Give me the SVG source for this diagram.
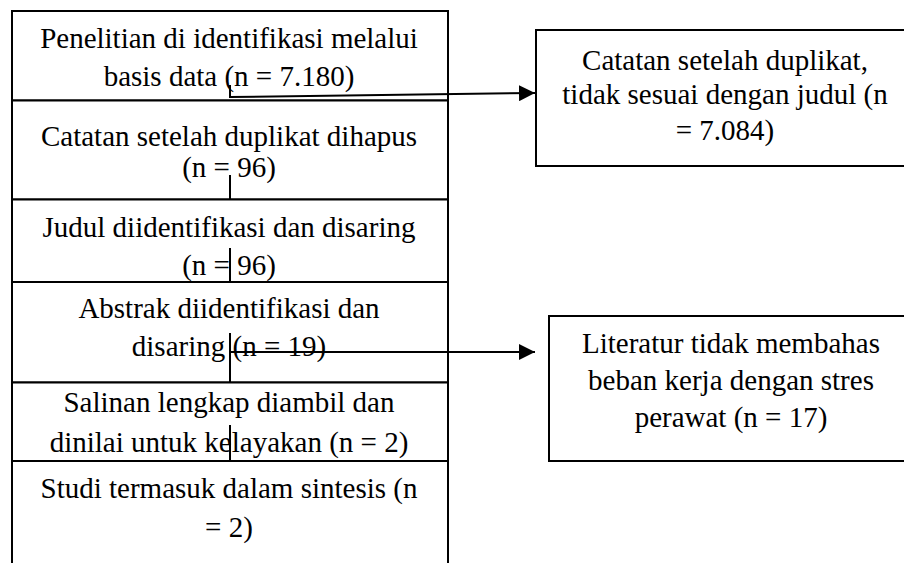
<svg xmlns="http://www.w3.org/2000/svg" width="904" height="563" viewBox="0 0 904 563">
<defs>
<style>
.t{font-family:"Liberation Serif","Times New Roman",serif;font-size:29px;fill:#000;text-anchor:middle}
.b{fill:#fff;stroke:#000;stroke-width:2}
.l{fill:none;stroke:#000;stroke-width:2}
</style>
<marker id="ah" markerWidth="17" markerHeight="16" refX="16" refY="8" orient="auto" markerUnits="userSpaceOnUse">
<path d="M0,0 L16,8 L0,16 Z" fill="#000"/>
</marker>
</defs>
<rect width="904" height="563" fill="#fff"/>
<g id="n1"><rect class="b" x="12" y="11" width="436" height="89.5"/>
<text class="t" x="229" y="48">Penelitian di identifikasi melalui</text>
<text class="t" x="229" y="86">basis data (n = 7.180)</text></g>
<g id="n2"><rect class="b" x="12" y="100.5" width="436" height="99"/>
<text class="t" x="229" y="146">Catatan setelah duplikat dihapus</text>
<text class="t" x="229" y="177">(n = 96)</text></g>
<g id="n3"><rect class="b" x="12" y="199.5" width="436" height="82.5"/>
<text class="t" x="229" y="237">Judul diidentifikasi dan disaring</text>
<text class="t" x="229" y="275">(n = 96)</text></g>
<g id="n4"><rect class="b" x="12" y="282" width="436" height="100.5"/>
<text class="t" x="229" y="318">Abstrak diidentifikasi dan</text>
<text class="t" x="229" y="356">disaring (n = 19)</text></g>
<g id="n5"><rect class="b" x="12" y="382.5" width="436" height="78.5"/>
<text class="t" x="229" y="412">Salinan lengkap diambil dan</text>
<text class="t" x="229" y="452">dinilai untuk kelayakan (n = 2)</text></g>
<g id="n6"><path class="l" d="M12,461 H448 M12,461 V563 M448,461 V563"/>
<text class="t" x="229" y="498">Studi termasuk dalam sintesis (n</text>
<text class="t" x="229" y="537">= 2)</text></g>
<g id="n7"><rect class="b" x="536" y="30" width="380" height="136"/>
<text class="t" x="725" y="70">Catatan setelah duplikat,</text>
<text class="t" x="725" y="104">tidak sesuai dengan judul (n</text>
<text class="t" x="725" y="140">= 7.084)</text></g>
<g id="n8"><rect class="b" x="549" y="316" width="370" height="145"/>
<text class="t" x="731" y="353">Literatur tidak membahas</text>
<text class="t" x="731" y="390">beban kerja dengan stres</text>
<text class="t" x="731" y="427">perawat (n = 17)</text></g>
<g id="connectors">
<path class="l" d="M230,85 V98"/>
<path class="l" d="M230,97 L535,93" marker-end="url(#ah)"/>
<path class="l" d="M230,175 V200"/>
<path class="l" d="M230,248 V282"/>
<path class="l" d="M230,333 V383"/>
<path class="l" d="M230,352 H535" marker-end="url(#ah)"/>
<path class="l" d="M230,425 V461"/>
</g>
</svg>
